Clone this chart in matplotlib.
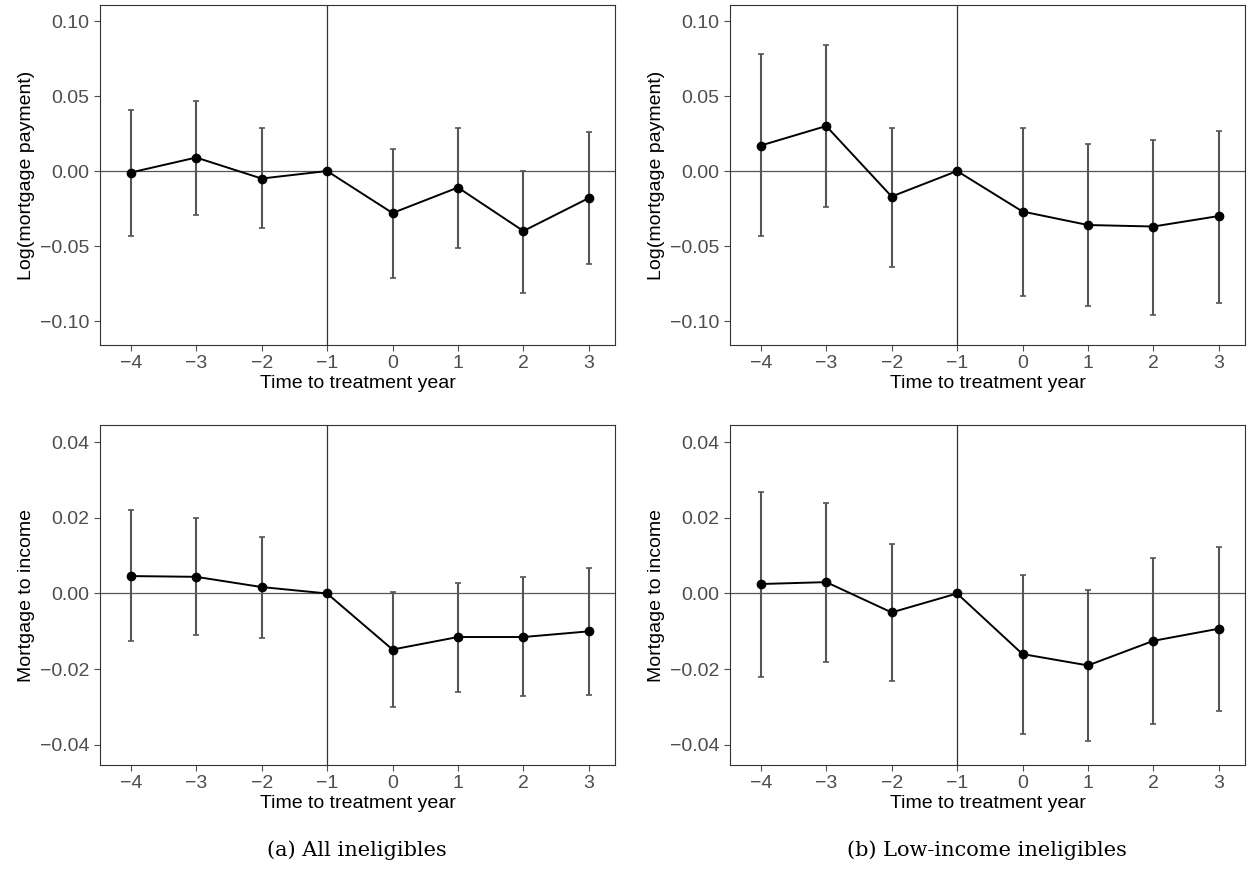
import matplotlib.pyplot as plt
import numpy as np

plt.rcParams['font.family'] = ['Liberation Sans', 'DejaVu Sans']

t = [-4, -3, -2, -1, 0, 1, 2, 3]

pay_all = [-0.001, 0.009, -0.005, 0.0, -0.028, -0.011, -0.040, -0.018]
pay_all_hi = [0.041, 0.047, 0.029, 0.0, 0.015, 0.029, 0.000, 0.026]
pay_all_lo = [-0.043, -0.029, -0.038, 0.0, -0.071, -0.051, -0.081, -0.062]

pay_low = [0.017, 0.030, -0.017, 0.0, -0.027, -0.036, -0.037, -0.030]
pay_low_hi = [0.078, 0.084, 0.029, 0.0, 0.029, 0.018, 0.021, 0.027]
pay_low_lo = [-0.043, -0.024, -0.064, 0.0, -0.083, -0.090, -0.096, -0.088]

mti_all = [0.0046, 0.0044, 0.0017, 0.0, -0.0148, -0.0115, -0.0115, -0.0100]
mti_all_hi = [0.0220, 0.0200, 0.0150, 0.0, 0.0005, 0.0028, 0.0043, 0.0067]
mti_all_lo = [-0.0125, -0.0110, -0.0118, 0.0, -0.0300, -0.0260, -0.0270, -0.0267]

mti_low = [0.0025, 0.0030, -0.0050, 0.0, -0.0160, -0.0190, -0.0125, -0.0093]
mti_low_hi = [0.0268, 0.0240, 0.0130, 0.0, 0.0050, 0.0008, 0.0094, 0.0123]
mti_low_lo = [-0.0220, -0.0180, -0.0230, 0.0, -0.0370, -0.0390, -0.0345, -0.0310]

panels = [
    (pay_all, pay_all_hi, pay_all_lo, "Log(mortgage payment)", (-0.116, 0.1107), [-0.10, -0.05, 0.0, 0.05, 0.10]),
    (pay_low, pay_low_hi, pay_low_lo, "Log(mortgage payment)", (-0.116, 0.1107), [-0.10, -0.05, 0.0, 0.05, 0.10]),
    (mti_all, mti_all_hi, mti_all_lo, "Mortgage to income", (-0.0453, 0.0445), [-0.04, -0.02, 0.0, 0.02, 0.04]),
    (mti_low, mti_low_hi, mti_low_lo, "Mortgage to income", (-0.0453, 0.0445), [-0.04, -0.02, 0.0, 0.02, 0.04]),
]

fig = plt.figure(figsize=(12.48, 8.8), dpi=100)
W, H = 1248, 880
boxes = [(100, 5), (730, 5), (100, 425), (730, 425)]
for (x0, y0), (est, hi, lo, ylab, ylim, yt) in zip(boxes, panels):
    ax = fig.add_axes([x0 / W, 1 - (y0 + 340) / H, 515 / W, 340 / H])
    est = np.array(est); hi = np.array(hi); lo = np.array(lo)
    ax.axhline(0, color="#555555", lw=0.9)
    ax.axvline(-1, color="#333333", lw=0.9)
    ax.errorbar(t, est, yerr=[est - lo, hi - est], fmt="none", ecolor="#555555",
                elinewidth=1.5, capsize=2.5, capthick=1.2)
    ax.plot(t, est, color="black", marker="o", ms=6, lw=1.4)
    ax.set_xlim(-4.47, 3.4)
    ax.set_ylim(*ylim)
    ax.set_xticks(t)
    ax.set_xticklabels([str(v).replace("-", "\u2212") for v in t])
    ax.set_yticks(yt)
    ax.set_yticklabels([("%.2f" % v).replace("-", "\u2212") for v in yt])
    ax.tick_params(labelsize=14, colors="#4d4d4d", length=4)
    ax.set_xlabel("Time to treatment year", fontsize=14, labelpad=2)
    ax.set_ylabel(ylab, fontsize=14, labelpad=4)
    for s in ax.spines.values():
        s.set_color("#333333")

fig.text(357 / W, 1 - 850 / H, "(a) All ineligibles", ha="center", va="center",
         fontsize=15, family="DejaVu Serif")
fig.text(987 / W, 1 - 850 / H, "(b) Low-income ineligibles", ha="center", va="center",
         fontsize=15, family="DejaVu Serif")
fig.savefig("out.png", dpi=100)
